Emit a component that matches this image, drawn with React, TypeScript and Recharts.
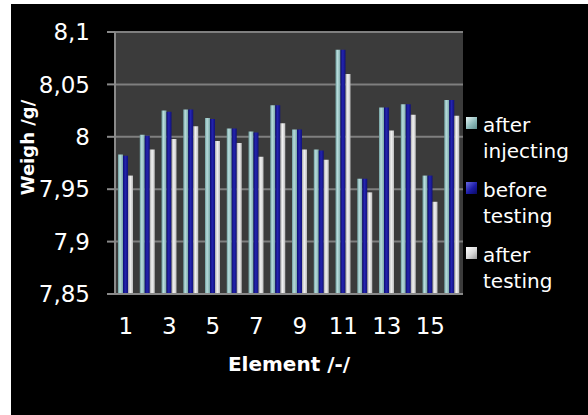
import * as React from "react"
import { BarChart, Bar, XAxis, YAxis, CartesianGrid } from "recharts"

const elements = ["1", "2", "3", "4", "5", "6", "7", "8", "9", "10", "11", "12", "13", "14", "15", "16"]
const afterInjecting = [7.983, 8.002, 8.025, 8.026, 8.018, 8.008, 8.005, 8.03, 8.007, 7.988, 8.083, 7.96, 8.028, 8.031, 7.963, 8.035]
const beforeTesting = [7.982, 8.001, 8.024, 8.026, 8.017, 8.008, 8.004, 8.03, 8.007, 7.987, 8.083, 7.96, 8.028, 8.031, 7.963, 8.035]
const afterTesting = [7.963, 7.988, 7.998, 8.01, 7.996, 7.994, 7.981, 8.013, 7.988, 7.978, 8.06, 7.947, 8.006, 8.021, 7.938, 8.02]
const yTicks = [7.85, 7.9, 7.95, 8, 8.05, 8.1]

const seriesInfo = [
  { key: "afterInjecting", name: "after injecting", fill: "url(#gTeal)", swatch: "linear-gradient(135deg, #e6f4f4, #8fbcbc 55%, #5f8f8f)" },
  { key: "beforeTesting", name: "before testing", fill: "url(#gBlue)", swatch: "linear-gradient(135deg, #6a6ae0, #1c1ca8 55%, #0a0a60)" },
  { key: "afterTesting", name: "after testing", fill: "url(#gWhite)", swatch: "linear-gradient(135deg, #ffffff, #d8d8d8 55%, #9a9a9a)" },
]

const data = elements.map((el, i) => ({
  element: el,
  afterInjecting: afterInjecting[i],
  beforeTesting: beforeTesting[i],
  afterTesting: afterTesting[i],
}))

const FONT = "DejaVu Sans, Verdana, sans-serif"

const fmt = (v: number) => String(v).replace(".", ",")

// legend drawn as plain html next to the plot
function LegendBox() {
  return (
    <div
      style={{
        position: "absolute",
        left: 455,
        top: 108,
        fontFamily: FONT,
        fontSize: 20,
        lineHeight: "26px",
        color: "#fff",
      }}
    >
      {seriesInfo.map((s) => {
        const [a, b] = s.name.split(" ")
        return (
          <div key={s.key} style={{ display: "flex", marginBottom: 13 }}>
            <div style={{ width: 11, height: 12, marginTop: 5, marginRight: 6, background: s.swatch, flexShrink: 0 }} />
            <div>
              <div>{a}</div>
              <div>{b}</div>
            </div>
          </div>
        )
      })}
    </div>
  )
}

export default function App() {
  return (
    <div style={{ position: "absolute", left: 11, top: 4, width: 577, height: 411, background: "#000" }}>
      <BarChart
        width={577}
        height={411}
        data={data}
        margin={{ top: 28, right: 125, bottom: 41, left: 0 }}
        barSize={5}
        barGap={0}
      >
        <defs>
          <linearGradient id="gTeal" x1="0" y1="0" x2="1" y2="0">
            <stop offset="0" stopColor="#6f9f9f" />
            <stop offset="0.4" stopColor="#b8dcdc" />
            <stop offset="1" stopColor="#7aa8a8" />
          </linearGradient>
          <linearGradient id="gBlue" x1="0" y1="0" x2="1" y2="0">
            <stop offset="0" stopColor="#0c0c70" />
            <stop offset="0.45" stopColor="#2424b0" />
            <stop offset="1" stopColor="#10107a" />
          </linearGradient>
          <linearGradient id="gWhite" x1="0" y1="0" x2="1" y2="0">
            <stop offset="0" stopColor="#a8a8a8" />
            <stop offset="0.45" stopColor="#f2f2f2" />
            <stop offset="1" stopColor="#bcbcbc" />
          </linearGradient>
        </defs>
        <CartesianGrid vertical={false} fill="#3b3b3b" stroke="#7f7f7f" strokeWidth={2} />
        <XAxis
          dataKey="element"
          interval={1}
          height={80}
          tickLine={false}
          tickSize={0}
          tickMargin={24}
          axisLine={{ stroke: "#8a8a8a", strokeWidth: 2 }}
          tick={{ fill: "#fff", fontSize: 23, fontFamily: FONT }}
          label={{
            value: "Element /-/",
            position: "insideTop",
            offset: 63,
            fill: "#fff",
            fontSize: 20,
            fontWeight: "bold",
            fontFamily: FONT,
          }}
        />
        <YAxis
          domain={[7.85, 8.1]}
          ticks={yTicks}
          width={104}
          tickSize={8}
          tickMargin={17}
          tickFormatter={fmt}
          tickLine={{ stroke: "#8a8a8a", strokeWidth: 2 }}
          axisLine={{ stroke: "#8a8a8a", strokeWidth: 2 }}
          tick={{ fill: "#fff", fontSize: 23, fontFamily: FONT }}
          label={{
            content: () => (
              <text
                x={16}
                y={143.5}
                transform="rotate(-90 16 143.5)"
                textAnchor="middle"
                dominantBaseline="central"
                fill="#fff"
                fontSize={18}
                fontWeight="bold"
                fontFamily={FONT}
              >
                Weigh /g/
              </text>
            ),
          }}
        />
        {seriesInfo.map((s) => (
          <Bar key={s.key} dataKey={s.key} name={s.name} fill={s.fill} isAnimationActive={false} />
        ))}
      </BarChart>
      <LegendBox />
    </div>
  )
}
